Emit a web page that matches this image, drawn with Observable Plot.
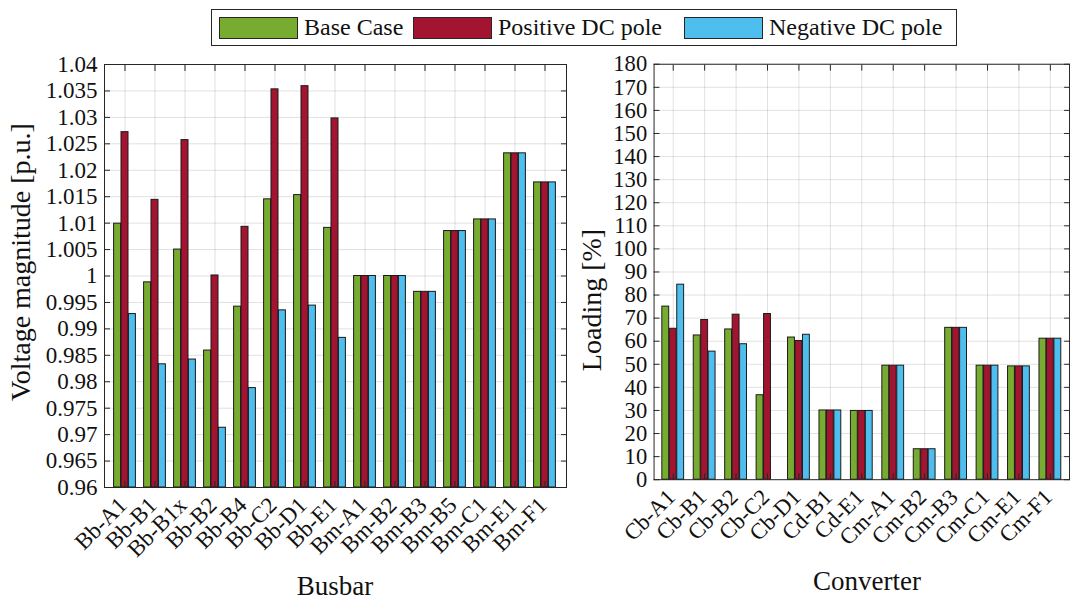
<!DOCTYPE html>
<html>
<head>
<meta charset="utf-8">
<script src="https://cdn.jsdelivr.net/npm/d3@7"></script>
<script src="https://cdn.jsdelivr.net/npm/@observablehq/plot@0.6"></script>
<style>
  html, body { margin: 0; padding: 0; background: #fff; overflow: hidden; }
  #wrap { position: relative; width: 1071px; height: 601px; overflow: hidden; background: #fff; font-family: "Liberation Serif", "Times New Roman", serif; color: #111; }
  #legend { position: absolute; left: 211px; top: 9px; width: 746px; height: 37px; box-sizing: border-box; border: 1px solid #262626; background: #fff; font-size: 24px; }
  .item { position: absolute; top: 0; height: 35px; display: flex; align-items: center; }
  .sw { width: 79px; height: 22px; box-sizing: border-box; border: 1px solid #262626; margin-right: 6px; }
  #left { position: absolute; left: 0; top: 50px; }
  #right { position: absolute; left: 575px; top: 50px; }
  .title { position: absolute; font-size: 27px; line-height: 1; white-space: nowrap; }
  .rot { font-size: 28px; transform: translate(-50%, -50%) rotate(-90deg); }
  .hor { transform: translateX(-50%); }
  svg { overflow: visible; }
</style>
</head>
<body>
<div id="wrap">
  <div id="left"></div>
  <div id="right"></div>
  <div id="legend"></div>
</div>
<script>
// ---------- data ----------
const seriesNames = ["Base Case", "Positive DC pole", "Negative DC pole"];
const seriesColors = ["#77AC30", "#A2142F", "#4DBEEE"];

const busbars = ["Bb-A1","Bb-B1","Bb-B1x","Bb-B2","Bb-B4","Bb-C2","Bb-D1","Bb-E1","Bm-A1","Bm-B2","Bm-B3","Bm-B5","Bm-C1","Bm-E1","Bm-F1"];
const busBase = [1.0099, 0.9988, 1.0050, 0.9859, 0.9942, 1.0145, 1.0153, 1.0091, 1.0000, 1.0000, 0.9970, 1.0085, 1.0107, 1.0232, 1.0177];
const busPos  = [1.0272, 1.0144, 1.0257, 1.0001, 1.0093, 1.0353, 1.0359, 1.0298, 1.0000, 1.0000, 0.9970, 1.0085, 1.0107, 1.0232, 1.0177];
const busNeg  = [0.9928, 0.9833, 0.9842, 0.9713, 0.9788, 0.9935, 0.9944, 0.9883, 1.0000, 1.0000, 0.9970, 1.0085, 1.0107, 1.0232, 1.0177];
const busTicks = [0.96,0.965,0.97,0.975,0.98,0.985,0.99,0.995,1,1.005,1.01,1.015,1.02,1.025,1.03,1.035,1.04];

const converters = ["Cb-A1","Cb-B1","Cb-B2","Cb-C2","Cb-D1","Cd-B1","Cd-E1","Cm-A1","Cm-B2","Cm-B3","Cm-C1","Cm-E1","Cm-F1"];
const convBase = [75.0, 62.5, 65.1, 36.6, 61.6, 30.0, 29.8, 49.4, 13.2, 65.8, 49.4, 49.1, 61.1];
const convPos  = [65.4, 69.2, 71.5, 71.8, 60.1, 30.0, 29.8, 49.4, 13.2, 65.8, 49.4, 49.1, 61.1];
const convNeg  = [84.5, 55.5, 58.7, null, 62.8, 30.0, 29.8, 49.4, 13.2, 65.8, 49.4, 49.1, 61.1];
const convTicks = [0,10,20,30,40,50,60,70,80,90,100,110,120,130,140,150,160,170,180];

// ---------- helpers ----------
const FONT = "'Liberation Serif', 'Times New Roman', serif";

function rows(cats, lists) {
  const out = [];
  lists.forEach((vals, s) => cats.forEach((c, i) => {
    if (vals[i] != null) out.push({cat: c, series: s, value: vals[i]});
  }));
  return out;
}

function chart({cats, lists, ticks, width, mL, mR, barW, pad, fmt}) {
  const data = rows(cats, lists);
  const lo = ticks[0], hi = ticks[ticks.length - 1];
  const gridStyle = {stroke: "#000", strokeOpacity: 0.12};
  const tickMark = {tickSize: -6, tickFormat: () => "", label: null, stroke: "#262626"};
  const marks = [
    Plot.gridY(ticks, gridStyle),
    Plot.gridX(cats, gridStyle),
  ];
  seriesNames.forEach((name, s) => {
    marks.push(Plot.barY(data.filter(d => d.series === s), {
      x: "cat", y1: lo, y2: "value",
      fill: seriesColors[s], stroke: "#1a1a1a", strokeWidth: 1,
      dx: (s - 1) * barW
    }));
  });
  marks.push(
    Plot.frame({stroke: "#262626", strokeWidth: 1}),
    Plot.axisY(ticks, {anchor: "left", tickSize: 0, tickPadding: 7, tickFormat: fmt,
      label: null, fill: "#111", fontSize: 23, fontFamily: FONT}),
    Plot.axisY(ticks, {anchor: "left", ...tickMark}),
    Plot.axisY(ticks, {anchor: "right", ...tickMark}),
    Plot.axisX(cats, {anchor: "bottom", tickSize: 0, tickPadding: 14, tickRotate: -45, dx: -2,
      label: null, fill: "#111", fontSize: 23, fontFamily: FONT}),
    Plot.axisX(cats, {anchor: "top", ...tickMark}),
    Plot.axisX(cats, {anchor: "bottom", ...tickMark})
  );
  return Plot.plot({
    width, height: 551,
    marginTop: 14, marginBottom: 114, marginLeft: mL, marginRight: mR,
    style: {fontFamily: FONT, fontSize: "23px", color: "#262626", background: "transparent"},
    x: {domain: cats, paddingInner: pad, paddingOuter: pad / 2},
    y: {domain: [lo, hi]},
    marks
  });
}

const fmtBus = d => String(+d.toFixed(3));

document.getElementById("left").appendChild(chart({
  cats: busbars, lists: [busBase, busPos, busNeg], ticks: busTicks,
  width: 575, mL: 104, mR: 9, barW: 7.4, pad: 0.76, fmt: fmtBus
}));

document.getElementById("right").appendChild(chart({
  cats: converters, lists: [convBase, convPos, convNeg], ticks: convTicks,
  width: 505, mL: 80, mR: 2, barW: 7.6, pad: 0.766, fmt: d => String(d)
}));

// ---------- axis titles ----------
const titles = [
  {text: "Voltage magnitude [p.u.]", cls: "rot", left: 21, top: 262},
  {text: "Loading [%]", cls: "rot", left: 592, top: 300},
  {text: "Busbar", cls: "hor", left: 335, top: 573},
  {text: "Converter", cls: "hor", left: 867, top: 568}
];
const wrap = d3.select("#wrap");
titles.forEach(t => {
  wrap.append("div").attr("class", "title " + t.cls)
    .style("left", t.left + "px").style("top", t.top + "px").text(t.text);
});

// ---------- legend ----------
const legend = d3.select("#legend");
const itemLefts = [7, 201, 472];
seriesNames.forEach((name, s) => {
  const it = legend.append("div").attr("class", "item").style("left", itemLefts[s] + "px");
  it.append("div").attr("class", "sw").style("background", seriesColors[s]);
  it.append("span").text(name);
});
</script>
</body>
</html>
